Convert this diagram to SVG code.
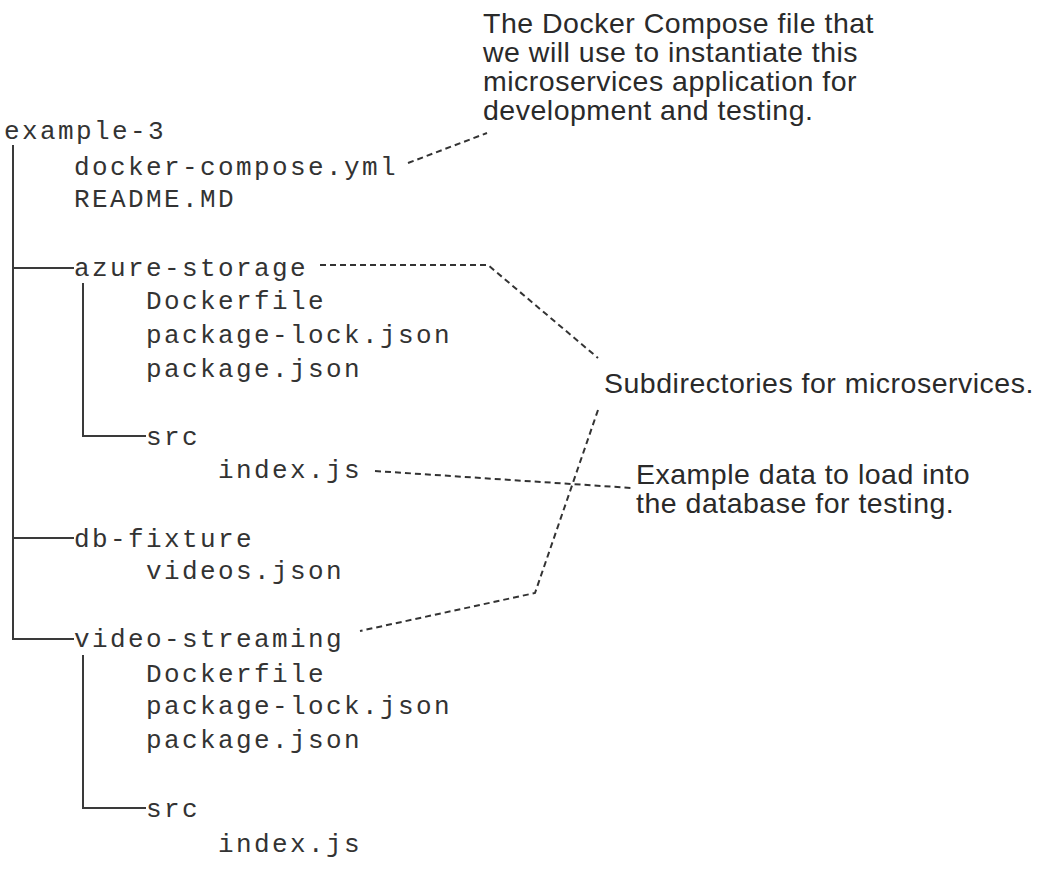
<svg xmlns="http://www.w3.org/2000/svg" width="1042" height="895" viewBox="0 0 1042 895">
<style>
.mono{font-family:"Liberation Mono","Courier New",monospace;font-size:26px;letter-spacing:2.4px;fill:#333}
.note{font-family:"Liberation Sans",Arial,sans-serif;font-size:28.5px;letter-spacing:0.5px;fill:#2a2a2a}
.tree{stroke:#3a3a3a;stroke-width:2;fill:none}
.dash{stroke:#333;stroke-width:2;fill:none;stroke-dasharray:6 4}
</style>
<rect width="1042" height="895" fill="#fff"/>
<g id="tree-lines">
<path class="tree" d="M13,145 V639 H74"/>
<path class="tree" d="M13,268 H74"/>
<path class="tree" d="M13,538 H74"/>
<path class="tree" d="M83,283 V436 H146"/>
<path class="tree" d="M83,655 V808 H146"/>
</g>
<g id="example-3"><text class="mono" x="4" y="139">example-3</text></g>
<g id="docker-compose"><text class="mono" x="74" y="175">docker-compose.yml</text></g>
<g id="readme"><text class="mono" x="74" y="207">README.MD</text></g>
<g id="azure-storage"><text class="mono" x="74" y="276">azure-storage</text></g>
<g id="azure-dockerfile"><text class="mono" x="146" y="309">Dockerfile</text></g>
<g id="azure-package-lock"><text class="mono" x="146" y="343">package-lock.json</text></g>
<g id="azure-package"><text class="mono" x="146" y="377">package.json</text></g>
<g id="azure-src"><text class="mono" x="146" y="445">src</text></g>
<g id="azure-index"><text class="mono" x="218" y="478">index.js</text></g>
<g id="db-fixture"><text class="mono" x="74" y="547">db-fixture</text></g>
<g id="videos-json"><text class="mono" x="146" y="579">videos.json</text></g>
<g id="video-streaming"><text class="mono" x="74" y="647">video-streaming</text></g>
<g id="video-dockerfile"><text class="mono" x="146" y="682">Dockerfile</text></g>
<g id="video-package-lock"><text class="mono" x="146" y="714">package-lock.json</text></g>
<g id="video-package"><text class="mono" x="146" y="748">package.json</text></g>
<g id="video-src"><text class="mono" x="146" y="817">src</text></g>
<g id="video-index"><text class="mono" x="218" y="852">index.js</text></g>
<g id="note-compose">
<text class="note" x="483" y="33">The Docker Compose file that</text>
<text class="note" x="483" y="62">we will use to instantiate this</text>
<text class="note" x="483" y="91">microservices application for</text>
<text class="note" x="483" y="120">development and testing.</text>
</g>
<g id="note-subdirs"><text class="note" x="604" y="393">Subdirectories for microservices.</text></g>
<g id="note-example">
<text class="note" x="636" y="484">Example data to load into</text>
<text class="note" x="636" y="513">the database for testing.</text>
</g>
<g id="connectors">
<path class="dash" d="M408,163 L487,133"/>
<path class="dash" d="M320,265 L488,265 L598,358"/>
<path class="dash" d="M598,410 L535,593 L360,631"/>
<path class="dash" d="M375,471 L632,488"/>
</g>
</svg>
